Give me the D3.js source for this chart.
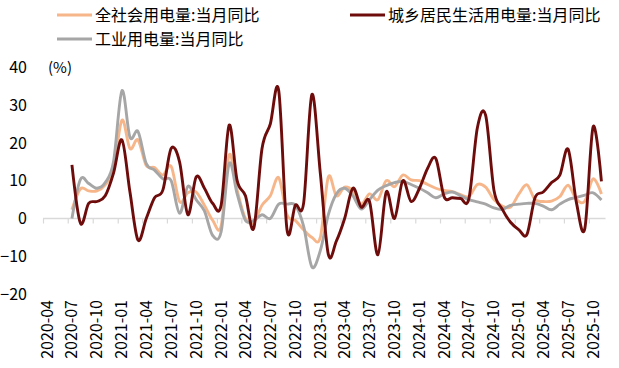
<!DOCTYPE html>
<html><head><meta charset="utf-8">
<script src="https://cdn.jsdelivr.net/npm/d3@7"></script>
<style>
html,body{margin:0;padding:0;background:#fff;}
svg{display:block;}
text{font-family:"Noto Sans CJK SC","Noto Sans",sans-serif;fill:#000;}
</style></head>
<body><svg id="c" width="619" height="368"></svg>
<script>
const months = [
"2020-07","2020-08","2020-09","2020-10","2020-11","2020-12",
"2021-01","2021-02","2021-03","2021-04","2021-05","2021-06","2021-07","2021-08","2021-09","2021-10","2021-11","2021-12",
"2022-01","2022-02","2022-03","2022-04","2022-05","2022-06","2022-07","2022-08","2022-09","2022-10","2022-11","2022-12",
"2023-01","2023-02","2023-03","2023-04","2023-05","2023-06","2023-07","2023-08","2023-09","2023-10","2023-11","2023-12",
"2024-01","2024-02","2024-03","2024-04","2024-05","2024-06","2024-07","2024-08","2024-09","2024-10","2024-11","2024-12",
"2025-01","2025-02","2025-03","2025-04","2025-05","2025-06","2025-07","2025-08","2025-09","2025-10","2025-11"];

const totalYoY = [
2.3,7.8,7.3,7.3,8.9,13,
26,18.5,20.8,14,13.5,11.5,13.8,4.5,6.8,7,3.5,-0.5,
-2,16.8,7.5,0,-1,3.5,6,10.8,1,-0.5,-3,-5,
-5,11,6,8.3,7.3,3.8,6.5,5,10,8.4,11.5,10.2,
10,9,8,7.4,7.1,6.3,5.8,9,8.3,5,3.3,3,
6.5,8.9,5,4.5,4.6,5.8,8.8,5,4.6,10.5,6.5];

const residentialYoY = [
14.2,-1.2,4,4.5,6,12,
20.8,7,-5.7,0,5.5,7.5,18.5,15,1,11,8,4,
3.5,24.7,10,6,-2.6,18.5,25,33.8,-3,3.5,4,32.8,
12,-9.5,-6,0,8,3,4.5,-9.6,7,0,10,4.5,
8,13.3,15.9,5.8,5.5,5.3,5.3,24,27.3,7.5,2.5,-1,
-3,-4.2,5.5,7,9.5,11.5,18.3,4,-2.6,24.3,9.8];

const industryYoY = [
0,10.3,9.3,8,9.5,15,
33.8,21.5,23,14.5,12.8,10.5,10,1.4,8.5,5,2,-4.5,
-3.5,14.5,6.5,-0.5,-0.5,1,0,3.8,3.8,3.5,-2,-12.8,
-8.5,1,6.5,8,6,2.5,5,7.5,8.7,9.5,9.8,9,
8,6.8,5.5,6.5,7,6,5,4.4,3.8,2.8,2.4,3.5,
3.8,4,4,3.3,2.3,3.8,5,5.6,6.2,6.8,4.9];

const tickLabels = ["2020-04","2020-07","2020-10","2021-01","2021-04","2021-07","2021-10","2022-01","2022-04","2022-07","2022-10","2023-01","2023-04","2023-07","2023-10","2024-01","2024-04","2024-07","2024-10","2025-01","2025-04","2025-07","2025-10"];
const yTicks = [40,30,20,10,0,-10,-20];

const seriesNames = ["全社会用电量:当月同比","城乡居民生活用电量:当月同比","工业用电量:当月同比"];
const colors = ["#F7B68A","#6E0C0C","#A6A6A6"];

const parse = d3.timeParse("%Y-%m");
const svg = d3.select("#c");

const x = d3.scaleTime().domain([parse("2020-04"), parse("2025-12")]).range([43, 605.5]);
const y = d3.scaleLinear().domain([-20, 40]).range([294.1, 67.3]);
const midX = m => { const d = parse(m); return (x(d) + x(d3.timeMonth.offset(d, 1))) / 2; };

// y axis labels
const yAxis = d3.axisLeft(y).tickValues(yTicks).tickSize(0).tickPadding(6).tickFormat(d3.format("d"));
const gy = svg.append("g").attr("transform","translate(33,0)").call(yAxis);
gy.select(".domain").remove();
gy.selectAll("text").style("font-size","16px").style("font-family",'"Noto Sans CJK SC",sans-serif').attr("fill","#000");

svg.append("text").attr("x",48).attr("y",y(40)).attr("dy","0.35em").style("font-size","15px").text("(%)");

// x axis at zero
const xAxis = d3.axisBottom(x).tickValues(tickLabels.map(parse)).tickSize(5).tickFormat("");
const gx = svg.append("g").attr("transform",`translate(0,${y(0)})`).call(xAxis);
gx.select(".domain").attr("stroke","#D9D9D9").attr("stroke-width",1.5).attr("d",`M43,0H605.5`);
gx.selectAll(".tick line").attr("stroke","#D9D9D9").attr("stroke-width",1.2);

// x labels rotated
svg.append("g").selectAll("text").data(tickLabels).join("text")
  .attr("transform", d => `translate(${x(parse(d))+4},300) rotate(-90)`)
  .attr("text-anchor","end").attr("dy","0.35em")
  .style("font-size","16px").text(d => d);

// lines
const line = d3.line().x((d,i) => midX(months[i])).y(d => y(d)).curve(d3.curveCardinal.tension(0));
const series = [totalYoY, residentialYoY, industryYoY];
const drawOrder = [0,2,1];
drawOrder.forEach(k => {
  svg.append("path").datum(series[k]).attr("fill","none").attr("stroke",colors[k])
    .attr("stroke-width",2.9).attr("stroke-linejoin","round").attr("d",line);
});

// legend
const legendPos = [{x:57,y:15},{x:350,y:15},{x:57,y:39}];
legendPos.forEach((p,k) => {
  svg.append("line").attr("x1",p.x).attr("x2",p.x+35).attr("y1",p.y).attr("y2",p.y)
    .attr("stroke",colors[k]).attr("stroke-width",2.9);
  svg.append("text").attr("x",p.x+38).attr("y",p.y).attr("dy","0.35em").style("font-size","16px").text(seriesNames[k]);
});
</script></body></html>
